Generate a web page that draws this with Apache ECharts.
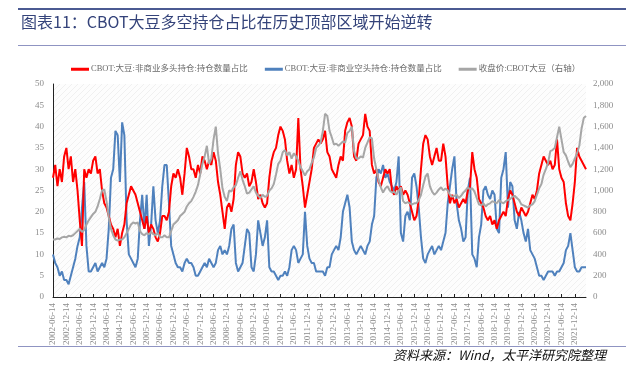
<!DOCTYPE html>
<html><head><meta charset="utf-8">
<script src="https://cdn.jsdelivr.net/npm/echarts@6/dist/echarts.min.js"></script>
<style>html,body{margin:0;padding:0;background:#fff}#c{width:638px;height:372px}</style>
</head><body><div id="c"></div>
<script>
// Monthly categories 2002-06-14 ... 2022-05-14
const categories = [];
for (let i = 0; i < 240; i++) {
  const t = 2002 * 12 + 5 + i;
  const y = Math.floor(t / 12), m = t % 12 + 1;
  categories.push(y + '-' + (m < 10 ? '0' + m : m) + '-14');
}

const longPct = [
28,31,26,30,27,33,35,30,33,27,30,25,18,12,30,28,30,29,32,33,29,30,25,22,21,19,17,16,14,16,12,15,17,22,24,26,25,24,22,20,18,16,19,15,17,16,14,13,15,19,19,18,20,26,29,28,30,28,24,29,35,33,30,
30,28,31,29,33,32,30,32,31,34,32,27,24,20,16,21,22,20,23,31,34,33,29,28,29,26,27,30,27,23,24,22,21,22,28,32,34,35,38,40,39,37,32,29,31,28,30,42,30,26,21,24,27,
30,35,36,37,36,37,39,34,33,30,29,28,31,33,32,39,41,42,40,33,32,36,37,38,43,40,39,31,29,30,27,26,28,30,29,30,25,24,26,25,26,24,25,24,22,20,18,19,23,30,36,38,37,33,31,33,35,32,32,36,
33,26,22,24,22,23,21,22,23,22,25,26,34,30,28,23,22,21,19,18,19,17,18,16,18,19,20,19,23,25,24,22,20,19,21,20,19,20,22,24,23,25,29,31,33,32,31,32,30,31,37,30,28,27,22,19,18,22,27,35,33,32,31,30
];

const shortPct = [
10,8,7,5,6,4,4,3,5,7,9,12,14,21,27,12,6,6,7,8,6,7,8,7,9,16,28,30,39,38,27,41,38,18,10,9,8,7,9,18,24,16,24,12,17,26,18,15,18,26,31,31,22,12,10,8,7,7,6,8,9,8,8,
7,5,5,6,7,8,7,9,8,7,8,11,12,10,11,10,12,16,17,8,6,7,8,12,16,15,7,6,10,18,15,12,14,18,7,6,6,5,4,5,5,6,5,7,11,12,11,8,9,10,20,12,9,8,8,6,6,6,
6,5,7,7,10,11,12,11,14,20,22,24,21,13,11,10,11,12,11,10,12,13,17,19,28,30,29,31,28,29,27,26,25,27,33,15,13,19,20,18,28,29,26,21,14,9,8,10,11,12,10,11,12,11,13,
15,22,26,30,33,22,18,16,13,14,25,28,10,9,7,14,17,25,26,24,23,25,24,16,15,28,30,34,21,27,26,18,16,20,18,15,13,16,11,10,9,7,5,5,4,5,6,6,6,5,6,6,7,8,11,12,15,11,7,6,6,7,7,7
];

const closePrice = [
540,540,550,545,560,565,560,575,570,580,600,620,640,610,630,680,720,750,780,800,850,920,1000,1010,900,750,640,580,540,530,540,540,560,600,640,680,700,690,700,620,590,580,600,590,610,590,580,600,560,560,580,560,560,620,680,700,720,760,780,800,850,880,900,
940,990,1050,1150,1250,1320,1420,1250,1300,1480,1600,1350,1200,1020,940,900,1000,990,1030,1050,1120,1180,1100,1040,970,980,1010,1040,980,950,930,960,940,950,1000,1020,1060,1150,1250,1280,1360,1380,1330,1360,1300,1350,1320,1280,1220,1180,1140,1180,1200,1260,1310,1400,1420,1450,
1560,1720,1700,1560,1500,1430,1440,1420,1440,1460,1450,1540,1560,1600,1370,1300,1300,1320,1310,1400,1450,1500,1490,1300,1200,1100,1030,980,1020,1040,1000,980,990,960,1000,1030,900,880,890,880,870,880,880,910,960,1050,1130,1160,1040,990,960,980,1010,1030,1000,1020,1000,960,
940,950,960,930,950,980,1000,1030,1010,1020,990,930,870,860,880,850,870,880,900,890,880,910,890,880,900,910,920,940,950,930,910,870,860,850,840,860,870,900,960,1020,1060,1150,1200,1260,1370,1380,1400,1500,1600,1480,1360,1330,1270,1220,1250,1300,1350,1420,1580,1680,1700
];

const seriesNames = ['CBOT:大豆:非商业多头持仓:持仓数量占比', 'CBOT:大豆:非商业空头持仓:持仓数量占比', '收盘价:CBOT大豆（右轴）'];

// faint diagonal hatch for plot background
const pc = document.createElement('canvas');
pc.width = 6; pc.height = 6;
const pctx = pc.getContext('2d');
pctx.fillStyle = '#fdfdfd'; pctx.fillRect(0, 0, 6, 6);
pctx.strokeStyle = '#ececec'; pctx.lineWidth = 0.8;
pctx.beginPath(); pctx.moveTo(0, 6); pctx.lineTo(6, 0); pctx.stroke();

const serif = '"Liberation Serif", "Noto Sans CJK SC", serif';
const chart = echarts.init(document.getElementById('c'));
chart.setOption({
  animation: false,
  backgroundColor: '#fff',
  grid: { left: 53, right: 52, top: 84, bottom: 75, show: true, borderWidth: 0,
          backgroundColor: { image: pc, repeat: 'repeat' } },
  legend: {
    top: 60, left: 66, itemGap: 17, itemWidth: 18, itemHeight: 3, icon: 'rect',
    textStyle: { fontFamily: serif, fontSize: 8.5, color: '#6a6a6a', padding: [0, 0, 0, -3] },
    data: seriesNames
  },
  xAxis: {
    type: 'category', data: categories, boundaryGap: false,
    axisLine: { lineStyle: { color: '#222', width: 1 } },
    axisTick: { inside: true, length: 3, interval: 5, lineStyle: { color: '#222' } },
    axisLabel: { interval: 5, rotate: 90, fontFamily: serif, fontSize: 9, color: '#8c8c8c', margin: 6 },
    splitLine: { show: false }
  },
  yAxis: [
    { type: 'value', min: 0, max: 50, interval: 5,
      axisLine: { show: true, lineStyle: { color: '#222' } }, axisTick: { show: false },
      axisLabel: { fontFamily: serif, fontSize: 9, color: '#8c8c8c', margin: 9 },
      splitLine: { show: false } },
    { type: 'value', min: 0, max: 2000, interval: 200,
      axisLine: { show: false }, axisTick: { show: false },
      axisLabel: { fontFamily: serif, fontSize: 9, color: '#8c8c8c', margin: 7,
                   formatter: v => v.toLocaleString('en-US') },
      splitLine: { show: false } }
  ],
  series: [
    { name: seriesNames[1], type: 'line', data: shortPct, yAxisIndex: 0, showSymbol: false,
      lineStyle: { color: '#4f81bd', width: 2 }, itemStyle: { color: '#4f81bd' } },
    { name: seriesNames[0], type: 'line', data: longPct, yAxisIndex: 0, showSymbol: false,
      lineStyle: { color: '#ff0000', width: 2 }, itemStyle: { color: '#ff0000' } },
    { name: seriesNames[2], type: 'line', data: closePrice, yAxisIndex: 1, showSymbol: false,
      lineStyle: { color: '#a6a6a6', width: 2 }, itemStyle: { color: '#a6a6a6' } }
  ],
  graphic: [
    { type: 'rect', shape: { x: 18, y: 8, width: 608, height: 2 }, style: { fill: '#4b5a92' } },
    { type: 'text', left: 21, top: 14,
      style: { text: '图表11：CBOT大豆多空持仓占比在历史顶部区域开始逆转', font: '16px "Noto Sans CJK SC"', fill: '#34437a' } },
    { type: 'rect', shape: { x: 18, y: 45, width: 608, height: 1 }, style: { fill: '#8f94c2' } },
    { type: 'rect', shape: { x: 18, y: 346, width: 608, height: 1 }, style: { fill: '#8f94c2' } },
    { type: 'text', left: 393, top: 349,
      style: { text: '资料来源：Wind，太平洋研究院整理', font: 'italic 13px "Noto Sans CJK SC"', fill: '#111' } }
  ]
});
</script></body></html>
